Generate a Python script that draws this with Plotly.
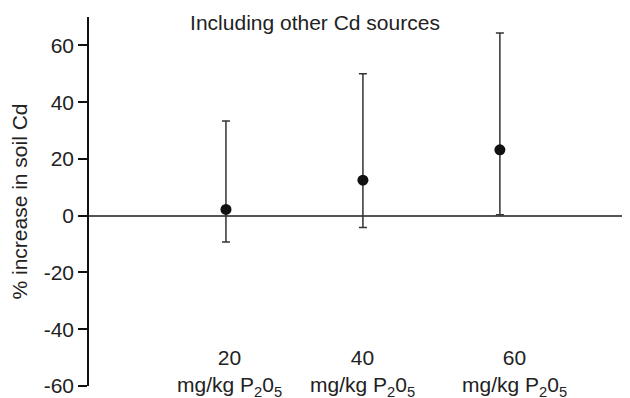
import plotly.graph_objects as go

doses = ["20", "40", "60"]
dose_unit = "mg/kg P<sub>2</sub>0<sub>5</sub>"
mean_increase = [2.2, 12.5, 23.2]
upper_ci = [33.4, 50.0, 64.4]
lower_ci = [-9.3, -4.2, 0.3]
label_shift_px = [4, 0, 15]
y_ticks = [-60, -40, -20, 0, 20, 40, 60]
y_tick_text = ["-60", "-40", "-20", "0", "20", "40", "60"]

xpos = list(range(1, len(doses) + 1))
err_plus = [u - m for u, m in zip(upper_ci, mean_increase)]
err_minus = [m - l for m, l in zip(mean_increase, lower_ci)]

FONT = "Liberation Sans, Arial, sans-serif"
TXT = "#222222"
FS = 21

# page body has an 8px margin; figure is sized so it fits the 630x398 window
W, H = 622, 390

fig = go.Figure()
fig.add_trace(go.Scatter(
    x=xpos, y=mean_increase, mode="markers",
    marker=dict(color="#111111", size=11),
    error_y=dict(type="data", symmetric=False, array=err_plus, arrayminus=err_minus,
                 color="#333333", thickness=1.5, width=4),
    showlegend=False,
))

for xv, d, sh in zip(xpos, doses, label_shift_px):
    fig.add_annotation(x=xv, y=-55.5, xref="x", yref="y", xshift=sh,
                       text=f"{d}<br>{dose_unit}", showarrow=False,
                       font=dict(family=FONT, size=FS, color=TXT),
                       align="center", yanchor="middle")

fig.update_layout(
    width=W, height=H,
    margin=dict(l=81, r=0, t=9, b=12),
    paper_bgcolor="white", plot_bgcolor="white",
    font=dict(family=FONT, size=FS, color=TXT),
    title=dict(text="Including other Cd sources", xref="container", x=307 / W,
               yref="container", y=1 - 15 / H, xanchor="center", yanchor="middle",
               font=dict(family=FONT, size=FS, color=TXT)),
    xaxis=dict(range=[0, 3.95], showticklabels=False, showgrid=False, zeroline=False,
               showline=False, ticks=""),
    yaxis=dict(range=[-60, 70], tickvals=y_ticks, ticktext=y_tick_text, showgrid=False,
               zeroline=True, zerolinecolor="#555555", zerolinewidth=1.5,
               showline=True, linecolor="#111111", linewidth=1.5,
               ticks="outside", ticklen=9, tickcolor="#111111", tickwidth=1.5,
               tickfont=dict(family=FONT, size=FS, color=TXT),
               title=dict(text="% increase in soil Cd", standoff=10,
                          font=dict(family=FONT, size=FS, color=TXT))),
)

fig.write_html("out.html")
